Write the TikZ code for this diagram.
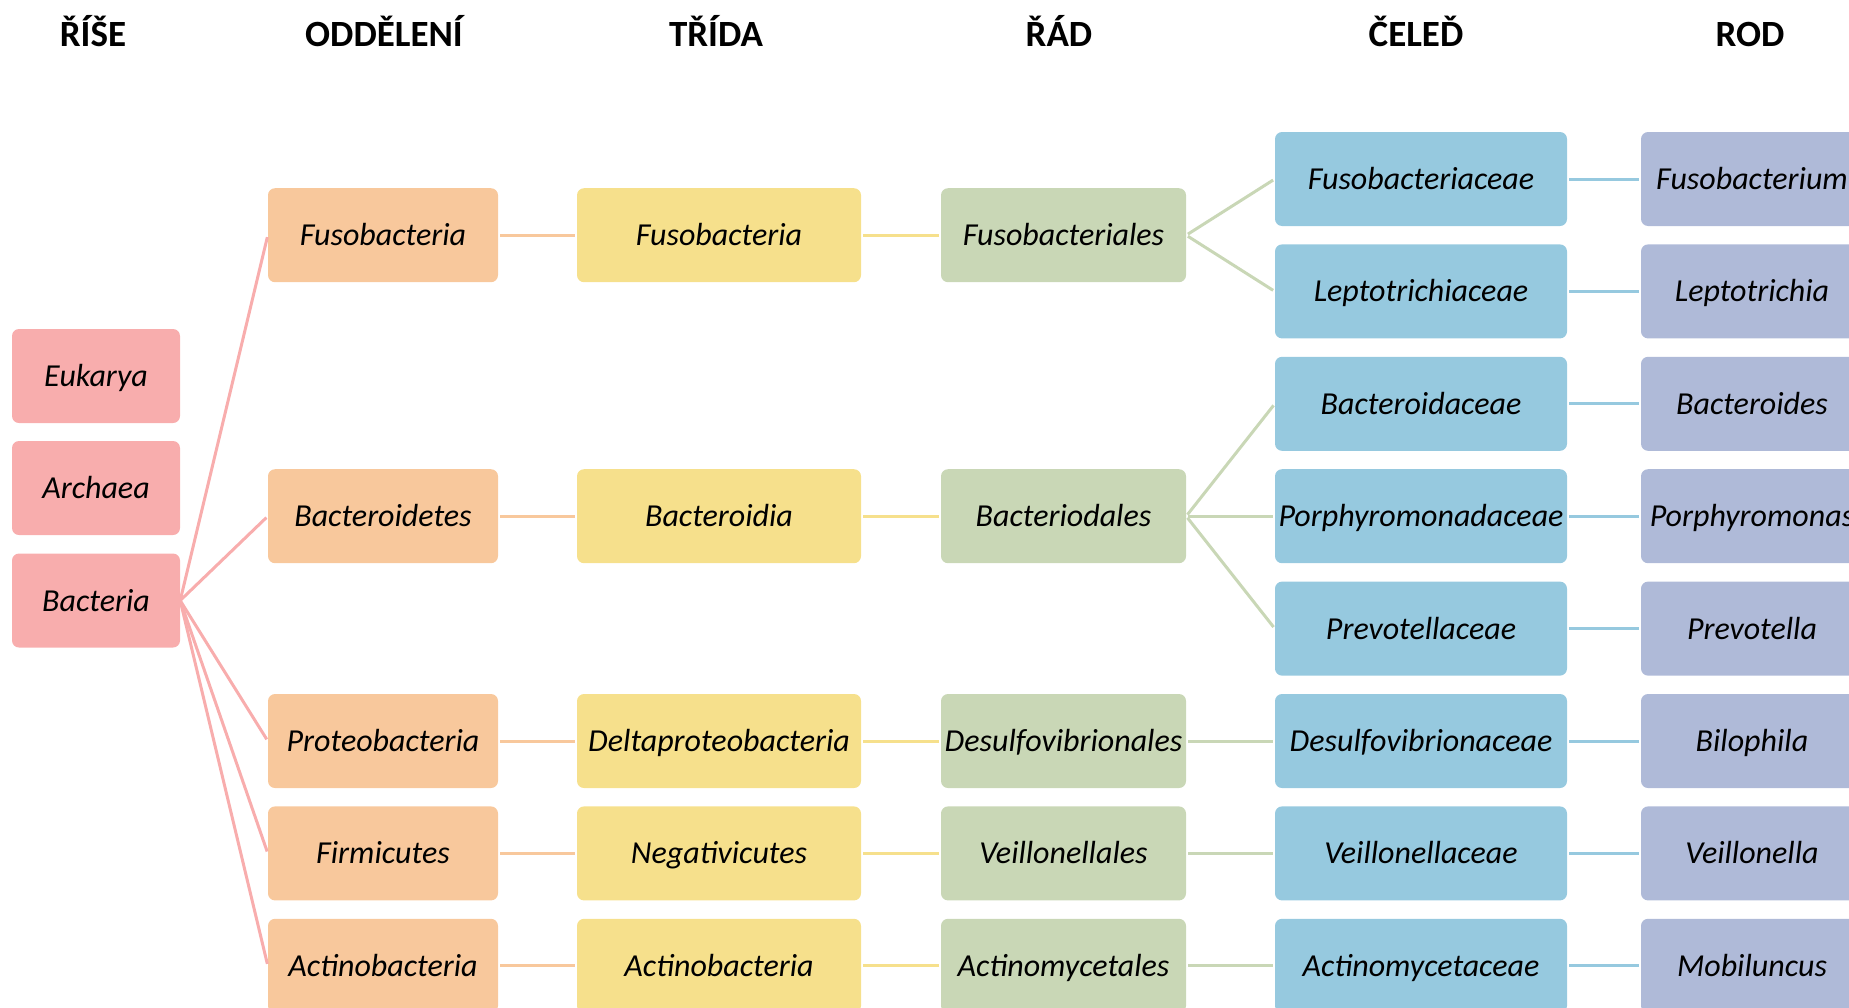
\documentclass[tikz,border=0pt]{standalone}
\usepackage{fontspec}
\setmainfont{Carlito}
\definecolor{riseC}{HTML}{F8ADAD}
\definecolor{oddC}{HTML}{F8C89C}
\definecolor{triC}{HTML}{F6E08C}
\definecolor{radC}{HTML}{C9D7B6}
\definecolor{celC}{HTML}{96C9DF}
\definecolor{rodC}{HTML}{AFBAD8}
\begin{document}
\begin{tikzpicture}[x=1pt,y=-1pt,
  box/.style={rounded corners=7pt, minimum height=94pt, inner sep=0pt,
    text height=21pt, text depth=0pt, font=\fontsize{32}{38}\selectfont\itshape},
  rise/.style={box, fill=riseC, minimum width=168pt},
  odd/.style={box, fill=oddC, minimum width=230pt},
  tri/.style={box, fill=triC, minimum width=284pt},
  rad/.style={box, fill=radC, minimum width=245pt},
  cel/.style={box, fill=celC, minimum width=292pt},
  rod/.style={box, fill=rodC, minimum width=222pt},
  hdr/.style={anchor=base, inner sep=0pt, font=\fontsize{37}{42}\selectfont\bfseries},
  link/.style={line width=3pt, shorten <=2pt, shorten >=2pt},
]
\useasboundingbox (0,0) rectangle (1849,1007);
\clip (0,0) rectangle (1849,1007);

% column headings
\node[hdr] (h1) at (93,46) {ŘÍŠE};
\node[hdr] (h2) at (384,46) {ODDĚLENÍ};
\node[hdr] (h3) at (716,46) {TŘÍDA};
\node[hdr] (h4) at (1059,46) {ŘÁD};
\node[hdr] (h5) at (1416,46) {ČELEĎ};
\node[hdr] (h6) at (1750,46) {ROD};

% kingdoms
\node[rise] (euk) at (96,376) {Eukarya};
\node[rise] (arc) at (96,488) {Archaea};
\node[rise] (bac) at (96,600.5) {Bacteria};

% phyla
\node[odd] (o1) at (383,235.2) {Fusobacteria};
\node[odd] (o2) at (383,516.2) {Bacteroidetes};
\node[odd] (o3) at (383,741) {Proteobacteria};
\node[odd] (o4) at (383,853.4) {Firmicutes};
\node[odd] (o5) at (383,965.8) {Actinobacteria};

% classes
\node[tri] (t1) at (719,235.2) {Fusobacteria};
\node[tri] (t2) at (719,516.2) {Bacteroidia};
\node[tri] (t3) at (719,741) {Deltaproteobacteria};
\node[tri] (t4) at (719,853.4) {Negativicutes};
\node[tri] (t5) at (719,965.8) {Actinobacteria};

% orders
\node[rad] (r1) at (1063.5,235.2) {Fusobacteriales};
\node[rad] (r2) at (1063.5,516.2) {Bacteriodales};
\node[rad] (r3) at (1063.5,741) {Desulfovibrionales};
\node[rad] (r4) at (1063.5,853.4) {Veillonellales};
\node[rad] (r5) at (1063.5,965.8) {Actinomycetales};

% families
\node[cel] (c1) at (1421,179) {Fusobacteriaceae};
\node[cel] (c2) at (1421,291.4) {Leptotrichiaceae};
\node[cel] (c3) at (1421,403.8) {Bacteroidaceae};
\node[cel] (c4) at (1421,516.2) {Porphyromonadaceae};
\node[cel] (c5) at (1421,628.6) {Prevotellaceae};
\node[cel] (c6) at (1421,741) {Desulfovibrionaceae};
\node[cel] (c7) at (1421,853.4) {Veillonellaceae};
\node[cel] (c8) at (1421,965.8) {Actinomycetaceae};

% genera
\node[rod] (g1) at (1752,179) {Fusobacterium};
\node[rod] (g2) at (1752,291.4) {Leptotrichia};
\node[rod] (g3) at (1752,403.8) {Bacteroides};
\node[rod] (g4) at (1752,516.2) {Porphyromonas};
\node[rod] (g5) at (1752,628.6) {Prevotella};
\node[rod] (g6) at (1752,741) {Bilophila};
\node[rod] (g7) at (1752,853.4) {Veillonella};
\node[rod] (g8) at (1752,965.8) {Mobiluncus};

% connectors
\foreach \o in {o1,o2,o3,o4,o5}
  \draw[link, riseC, shorten <=0pt] (bac.east) -- (\o.west);
\foreach \a/\b in {o1/t1,o2/t2,o3/t3,o4/t4,o5/t5}
  \draw[link, oddC] (\a) -- (\b);
\foreach \a/\b in {t1/r1,t2/r2,t3/r3,t4/r4,t5/r5}
  \draw[link, triC] (\a) -- (\b);
\foreach \a/\b in {r1/c1,r1/c2,r2/c3,r2/c4,r2/c5,r3/c6,r4/c7,r5/c8}
  \draw[link, radC] (\a.east) -- (\b.west);
\foreach \a/\b in {c1/g1,c2/g2,c3/g3,c4/g4,c5/g5,c6/g6,c7/g7,c8/g8}
  \draw[link, celC] (\a) -- (\b);
\end{tikzpicture}
\end{document}
